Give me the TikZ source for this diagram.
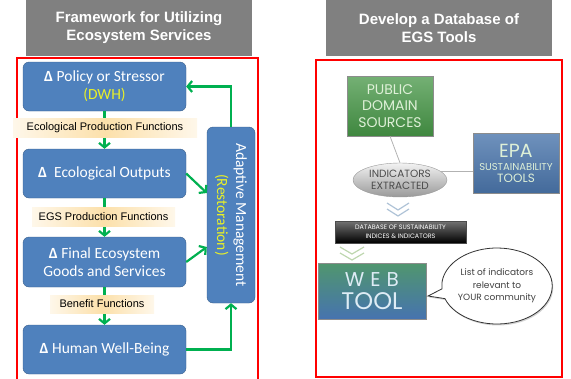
\documentclass[tikz,border=0pt]{standalone}
\usepackage{fontspec}
\setmainfont{Carlito}
\newfontfamily\arialfont{Liberation Sans}
\newfontfamily\gothfont{Poppins}
\usepackage{tikz}
\usetikzlibrary{arrows.meta,shapes.geometric,shapes.callouts,shadows}

\definecolor{boxblue}{RGB}{79,129,189}
\definecolor{boxline}{RGB}{58,95,140}
\definecolor{headgray}{RGB}{128,128,128}
\definecolor{flowgreen}{RGB}{0,176,80}
\definecolor{dwh}{RGB}{232,240,40}
\definecolor{fnorange}{RGB}{252,224,170}
\definecolor{pubgreen}{RGB}{70,150,70}
\definecolor{epablue}{RGB}{75,118,172}
\definecolor{paletext}{RGB}{222,240,215}

\begin{document}
\begin{tikzpicture}[x=1pt,y=-1pt,
  head/.style={fill=headgray,text=white,inner sep=0pt,minimum width=226pt,minimum height=56pt,
    align=center,font=\arialfont\bfseries\fontsize{15}{18}\selectfont},
  frame/.style={draw=red,line width=1.2pt},
  stage/.style={draw=boxline,fill=boxblue,rounded corners=6pt,minimum width=163pt,
    minimum height=49pt,inner sep=0pt,text=white,align=center,font=\fontsize{15.5}{18}\selectfont},
  fn/.style={left color=fnorange!25,right color=fnorange!25,middle color=fnorange,inner sep=0pt,
    font=\arialfont\fontsize{11}{12}\selectfont},
  flow/.style={draw=flowgreen,line width=2.2pt,-{Straight Barb[length=4.5pt,width=11pt]}},
  tool/.style={draw=black!45,inner sep=0pt,align=center,text=paletext,
    drop shadow={shadow xshift=1pt,shadow yshift=-1pt,opacity=0.35}},
  link/.style={draw=black!30,line width=0.8pt},
  chev/.style={line width=1.2pt}]

\useasboundingbox (0,0) rectangle (571,378);

% left panel
\node[head] (lhead) at (139,28) {Framework for Utilizing\\Ecosystem Services};
\draw[frame] (17,382) -- (17,58) -- (258,58) -- (258,382);

\node[stage] (policy) at (104.5,86.5) {{\bfseries Δ} Policy or Stressor\\\textcolor{dwh}{(DWH)}};
\node[stage] (ecoout) at (104.5,173.5) {{\bfseries Δ}\ \ Ecological Outputs};
\node[stage,minimum height=50pt] (final) at (104.5,262) {{\bfseries Δ}\ Final Ecosystem\\Goods and Services};
\node[stage] (wellbeing) at (104.5,349.5) {{\bfseries Δ}\ Human Well-Being};
\node[draw=boxline,fill=boxblue,rounded corners=6pt,minimum width=48pt,minimum height=176pt] (adaptive) at (231,215) {};
\node[rotate=-90,text=white,align=center,font=\fontsize{15.5}{19}\selectfont] (adtext) at (adaptive.center)
  {Adaptive Management\\\textcolor{dwh}{(Restoration)}};

% downward chain
\draw[flow] (policy) -- (ecoout);
\draw[flow] (ecoout) -- (final);
\draw[flow] (final) -- (wellbeing);
\node[fn,minimum width=184pt,minimum height=19pt] (epf) at (105,127.5) {Ecological Production Functions};
\node[fn,minimum width=143pt,minimum height=19pt] (egspf) at (103.5,216.5) {EGS Production Functions};
\node[fn,minimum width=104pt,minimum height=18pt] (bf) at (102,304) {Benefit Functions};

% feedback
\draw[flow] (adaptive.north) |- (policy.east);
\draw[flow] (ecoout.east) -- ([yshift=22pt]adaptive.west);
\draw[flow] (final.east) -- ([yshift=-32pt]adaptive.west);
\draw[flow] (wellbeing.east) -| (adaptive.south);

% right panel
\node[head] (rhead) at (439,28) {Develop a Database of\\EGS Tools};
\draw[frame] (316,60) rectangle (562,377);

\node[tool,top color=pubgreen!75!white,bottom color=pubgreen!90!black,minimum width=86pt,minimum height=60pt,
  font=\gothfont\fontsize{14}{16.5}\selectfont] (pub) at (390,106) {PUBLIC\\DOMAIN\\SOURCES};
\node[tool,top color=epablue!80!white,bottom color=epablue!90!black,minimum width=86pt,minimum height=60pt] (epa) at (516,163)
  {{\gothfont\fontsize{19}{19}\selectfont EPA}\\[1pt]{\gothfont\fontsize{10}{11}\selectfont SUSTAINABILITY}\\{\gothfont\fontsize{12}{13}\selectfont TOOLS}};
\node[ellipse,draw=black!40,top color=black!5,bottom color=black!40,minimum width=94pt,minimum height=34pt,inner sep=0pt,
  align=center,text=black!70,font=\gothfont\fontsize{10.5}{12}\selectfont] (ind) at (400,180) {INDICATORS\\EXTRACTED};
\draw[link] (pub.south) -- (ind.north);
\draw[link] (ind.12) -- (ind.12 -| epa.west);

\draw[chev,draw={rgb,255:red,175;green,195;blue,215}] (387,203) -- (398,210) -- (409,203) (387,209) -- (398,216) -- (409,209);

\node[tool,draw=black!70,top color=black!55,bottom color=black,minimum width=131pt,minimum height=22pt,text=white,
  font=\gothfont\fontsize{6.4}{8.5}\selectfont] (db) at (400.5,232) {DATABASE OF SUSTAINABILITY\\INDICES \& INDICATORS};

\draw[chev,draw={rgb,255:red,190;green,215;blue,175}] (340,247) -- (352,254) -- (364,247) (340,253) -- (352,260) -- (364,253);

\node[tool,top color={rgb,255:red,80;green,150;blue,110},bottom color={rgb,255:red,70;green,115;blue,175},
  minimum width=108pt,minimum height=56pt,text={rgb,255:red,222;green,236;blue,245}] (web) at (372,291)
  {{\gothfont\fontsize{20}{22}\selectfont W\hspace{6pt}E\hspace{6pt}B}\\[5pt]{\gothfont\fontsize{24}{24}\selectfont TOOL}};

\node[ellipse callout,draw=black!80,line width=0.8pt,fill=white,minimum width=96pt,minimum height=76pt,inner sep=0pt,
  callout absolute pointer={(428,296)},align=center,text=black!75,font=\gothfont\fontsize{9}{12.5}\selectfont,
  drop shadow={shadow xshift=1pt,shadow yshift=-1.5pt,opacity=0.35}] (bubble) at (497,286)
  {List of indicators\\relevant to\\YOUR community};

\end{tikzpicture}
\end{document}
